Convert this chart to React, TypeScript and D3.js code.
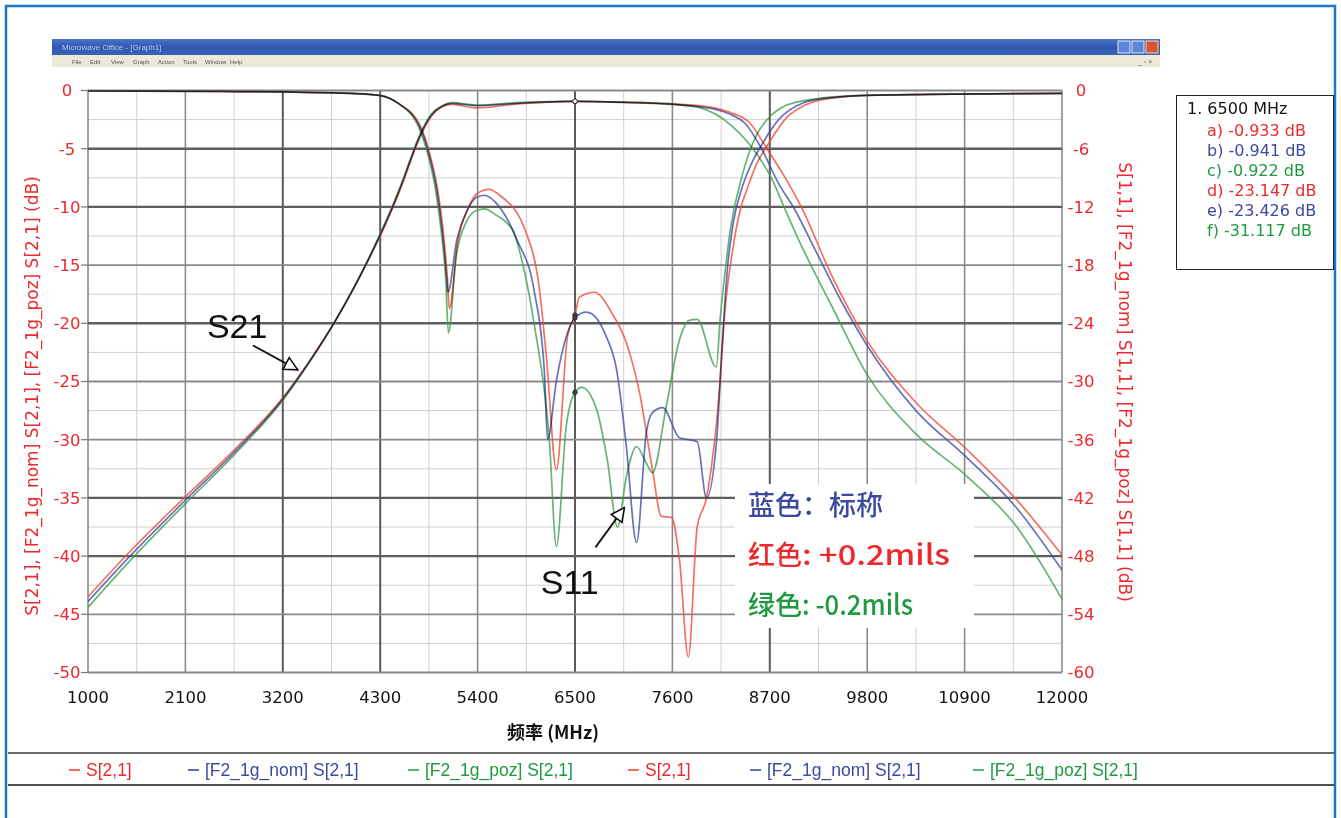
import React from "react";
import * as d3 from "d3";

// ---------- data ----------
const FREQ_TICKS = [1000, 2100, 3200, 4300, 5400, 6500, 7600, 8700, 9800, 10900, 12000];
const LEFT_TICKS = [0, -5, -10, -15, -20, -25, -30, -35, -40, -45, -50];
const RIGHT_TICKS = [0, -6, -12, -18, -24, -30, -36, -42, -48, -54, -60];

// S21 (left axis, dB) : [MHz, dB]
const s21Plus: [number, number][] = [
  [1000, -43.5], [1450, -39.8], [2100, -34.9], [2650, -30.9], [3200, -26.4], [3500, -23.25],
  [3800, -19.7], [4000, -17.0], [4200, -14.05], [4300, -12.5], [4440, -10.1], [4540, -8.25],
  [4650, -5.95], [4720, -4.55], [4880, -2.2], [5000, -1.4], [5110, -1.2], [5390, -1.5],
  [5850, -1.15], [6500, -0.933], [7040, -1.0], [7590, -1.15], [8050, -1.45], [8240, -1.85],
  [8470, -2.75], [8660, -4.9], [8890, -7.7], [9055, -10.0], [9405, -16.0], [9790, -21.4],
  [10350, -26.8], [10920, -30.8], [11480, -35.1], [12000, -39.9],
];
const s21Nom: [number, number][] = [
  [1000, -43.9], [1450, -40.2], [2100, -35.2], [2650, -31.1], [3200, -26.5], [3500, -23.3],
  [3800, -19.7], [4000, -17.0], [4200, -14.0], [4300, -12.4], [4440, -10.0], [4540, -8.1],
  [4650, -5.8], [4720, -4.4], [4880, -2.1], [5000, -1.35], [5110, -1.1], [5390, -1.3],
  [5850, -1.1], [6500, -0.941], [7040, -1.03], [7590, -1.2], [8050, -1.55], [8240, -2.0],
  [8430, -2.9], [8600, -4.9], [8800, -8.0], [8980, -10.2], [9220, -13.8], [9500, -18.0],
  [9790, -21.8], [10350, -27.5], [10920, -31.5], [11480, -35.8], [12000, -41.2],
];
const s21Minus: [number, number][] = [
  [1000, -44.4], [1450, -40.6], [2100, -35.5], [2650, -31.3], [3200, -26.6], [3500, -23.35],
  [3800, -19.7], [4000, -16.95], [4200, -13.95], [4300, -12.3], [4440, -9.9], [4540, -8.0],
  [4650, -5.7], [4720, -4.3], [4880, -2.0], [5000, -1.3], [5110, -1.05], [5390, -1.25],
  [5850, -1.05], [6500, -0.922], [7040, -1.0], [7590, -1.15], [7900, -1.45], [8280, -3.1],
  [8500, -4.9], [8730, -7.7], [8860, -10.0], [9030, -12.9], [9405, -18.6], [9790, -24.3],
  [10350, -29.5], [10920, -33.1], [11480, -37.4], [12000, -43.7],
];

// S11 (right axis, dB)
const s11Plus: [number, number][] = [
  [1000, -0.05], [2500, -0.1], [3220, -0.15], [3980, -0.3], [4290, -0.5], [4500, -1.3],
  [4750, -3.6], [4870, -6.9], [4950, -10.3], [5010, -14.4], [5060, -19.5], [5080, -22.5],
  [5175, -15.6], [5290, -12.2], [5400, -10.6], [5530, -10.2], [5650, -10.8], [5950, -14.7],
  [6100, -20.6], [6180, -27.8], [6290, -39.1], [6415, -25.4], [6500, -23.147], [6550, -21.3],
  [6720, -20.8], [6920, -23.0], [7080, -26.0], [7230, -31.2], [7375, -39.1], [7475, -43.9],
  [7590, -44.0], [7680, -48.4], [7780, -58.4], [7880, -45.0], [7985, -42.0], [8130, -31.0],
  [8200, -22.0], [8280, -16.5], [8360, -12.5], [8450, -10.0], [8550, -7.6], [8670, -5.7],
  [8890, -2.8], [9100, -1.5], [9260, -1.0], [9790, -0.5], [12000, -0.3],
];
const s11Nom: [number, number][] = [
  [1000, -0.05], [2500, -0.1], [3220, -0.15], [3980, -0.3], [4290, -0.5], [4500, -1.3],
  [4750, -3.8], [4860, -6.9], [4940, -10.3], [5000, -14.4], [5050, -19.2], [5065, -20.8],
  [5165, -15.4], [5280, -12.4], [5390, -11.0], [5480, -10.8], [5600, -11.5], [5850, -15.5],
  [6040, -20.7], [6155, -29.1], [6190, -36.0], [6290, -29.9], [6415, -25.0], [6500, -23.426],
  [6630, -22.85], [6855, -25.4], [6970, -28.8], [7080, -36.7], [7195, -46.6], [7305, -35.3],
  [7375, -33.2], [7490, -32.7], [7680, -35.8], [7880, -36.2], [7985, -42.0], [8100, -36.0],
  [8160, -26.5], [8220, -18.5], [8290, -13.5], [8380, -10.2], [8470, -8.0], [8615, -5.5],
  [8810, -2.9], [9000, -1.6], [9180, -1.0], [9790, -0.5], [10500, -0.4], [12000, -0.3],
];
const s11Minus: [number, number][] = [
  [1000, -0.05], [2500, -0.1], [3220, -0.15], [3980, -0.3], [4290, -0.5], [4500, -1.3],
  [4740, -3.9], [4850, -7.0], [4930, -10.5], [4990, -14.6], [5040, -19.5], [5070, -25.0],
  [5160, -17.0], [5270, -13.6], [5380, -12.4], [5480, -12.2], [5600, -12.8], [5795, -14.4],
  [5900, -17.5], [6045, -24.4], [6210, -36.0], [6290, -47.0], [6400, -34.7], [6500, -31.117],
  [6575, -30.6], [6745, -32.9], [6865, -38.1], [6980, -45.0], [7080, -39.8], [7195, -36.7],
  [7305, -38.4], [7375, -39.4], [7530, -32.6], [7680, -25.7], [7790, -23.7], [7880, -23.6],
  [8095, -28.5], [8140, -23.5], [8210, -17.5], [8250, -14.6], [8390, -8.7], [8550, -4.6],
  [8660, -3.1], [9000, -1.2], [9740, -0.5], [12000, -0.3],
];

const MARKER_FREQ = 6500;
const MARKER_LINES = [
  "a) -0.933 dB", "b) -0.941 dB", "c) -0.922 dB",
  "d) -23.147 dB", "e) -23.426 dB", "f) -31.117 dB",
];
const LEGEND_LABELS = [
  "S[2,1]", "[F2_1g_nom] S[2,1]", "[F2_1g_poz] S[2,1]",
  "S[2,1]", "[F2_1g_nom] S[2,1]", "[F2_1g_poz] S[2,1]",
];
const MENU_ITEMS = ["File", "Edit", "View", "Graph", "Action", "Tools", "Window", "Help"];

// annotations in data units
const S21_LABEL = { f: 2343, db: -21.3, text: "S21" };
const S21_ARROW = { f0: 2862, db0: -21.9, f1: 3369, db1: -24.0 };
const S11_LABEL = { f: 6113, db: -51.9, text: "S11" };
const S11_ARROW = { f0: 6731, db0: -47.1, f1: 7058, db1: -43.0 };

// ---------- styles ----------
const RED = "#ee4a36";
const BLUE = "#3f4ca6";
const GREEN = "#3c9f50";
const RED_T = "#ec2a2e";
const BLUE_T = "#3b4a9e";
const GREEN_T = "#1f9a40";
const TICK_FONT = "'DejaVu Sans', Verdana, sans-serif";

const W = 1341;
const H = 818;
const PL = 88, PR = 1062, PT = 90.5, PB = 672.5;

export default function App() {
  const x = d3.scaleLinear().domain([1000, 12000]).range([PL, PR]);
  const yL = d3.scaleLinear().domain([0, -50]).range([PT, PB]);
  const yR = d3.scaleLinear().domain([0, -60]).range([PT, PB]);

  const lineL = d3.line<[number, number]>().x(d => x(d[0])).y(d => yL(d[1])).curve(d3.curveMonotoneX);
  const lineR = d3.line<[number, number]>().x(d => x(d[0])).y(d => yR(d[1])).curve(d3.curveMonotoneX);

  const s21 = [
    { data: s21Plus, color: RED },
    { data: s21Nom, color: BLUE },
    { data: s21Minus, color: GREEN },
  ];
  const s11 = [
    { data: s11Plus, color: RED },
    { data: s11Nom, color: BLUE },
    { data: s11Minus, color: GREEN },
  ];

  const minorX = d3.range(1550, 12000, 1100);
  const minorY = d3.range(-2.5, -50, -5);
  const darkX = new Set([3200, 4300, 6500, 8700]);
  const darkY = new Set([-5, -10, -20, -35, -40]);

  const valAt = (data: [number, number][], f: number) => {
    const p = data.find(d => d[0] === f);
    return p ? p[1] : 0;
  };

  const legendX = [69, 188, 408, 628, 750, 973];
  const legendColors = [RED, BLUE, GREEN, RED, BLUE, GREEN];
  const legendTextColors = [RED_T, BLUE_T, GREEN_T, RED_T, BLUE_T, GREEN_T];
  const markerColors = [RED_T, BLUE_T, GREEN_T, RED_T, BLUE_T, GREEN_T];

  const menuX = [72, 90, 111, 133, 158, 183, 205, 230];
  const curveStyle = { mixBlendMode: "multiply" as const };

  return (
    <svg width={W} height={H} style={{ position: "absolute", left: 0, top: 0, background: "#fff" }}>
      <defs>
        <linearGradient id="tb" x1="0" y1="0" x2="0" y2="1">
          <stop offset="0" stopColor="#4a73c8" />
          <stop offset="0.5" stopColor="#2f58b2" />
          <stop offset="1" stopColor="#3a62b8" />
        </linearGradient>
        <clipPath id="plot">
          <rect x={PL} y={PT - 2} width={PR - PL} height={PB - PT + 4} />
        </clipPath>
        <marker id="openHead" viewBox="0 0 12 12" refX="11" refY="6" markerWidth="16" markerHeight="16"
          markerUnits="userSpaceOnUse" orient="auto">
          <path d="M1,1 L11,6 L1,11 Z" fill="#fff" stroke="#111" strokeWidth="1.2" />
        </marker>
      </defs>

      {/* outer frame */}
      <rect x={6} y={6} width={1329} height={830} fill="none" stroke="#1c78c6" strokeWidth={2.5} />

      {/* window title bar */}
      <rect x={52} y={39} width={1108} height={16} fill="url(#tb)" />
      <text x={62} y={50} fontSize={8} fill="#b9c8ec" fontFamily="Arial, sans-serif">Microwave Office - [Graph1]</text>
      <rect x={1118} y={41} width={12} height={12} fill="#5b86d8" stroke="#dfe8fa" strokeWidth={1} />
      <rect x={1132} y={41} width={12} height={12} fill="#5b86d8" stroke="#dfe8fa" strokeWidth={1} />
      <rect x={1146} y={41} width={12} height={12} fill="#d9552e" stroke="#f4d2c4" strokeWidth={1} />
      <rect x={52} y={55} width={1108} height={12} fill="#ece9d8" />
      {MENU_ITEMS.map((m, i) => (
        <text key={m} x={menuX[i]} y={64} fontSize={6} fill="#555" fontFamily="Arial, sans-serif">{m}</text>
      ))}
      <text x={1138} y={64} fontSize={7} fill="#666" fontFamily="Arial, sans-serif">_ ▫ ×</text>

      {/* grid */}
      {minorX.map(f => (
        <line key={"mx" + f} x1={x(f)} x2={x(f)} y1={PT} y2={PB} stroke="#cfcfcf" strokeWidth={1} />
      ))}
      {minorY.map(v => (
        <line key={"my" + v} x1={PL} x2={PR} y1={yL(v)} y2={yL(v)} stroke="#cfcfcf" strokeWidth={1} />
      ))}
      {FREQ_TICKS.map(f => (
        <line key={"gx" + f} x1={x(f)} x2={x(f)} y1={PT} y2={PB}
          stroke={darkX.has(f) ? "#5a5a5a" : "#8a8a8a"} strokeWidth={darkX.has(f) ? 2 : 1.6} />
      ))}
      {LEFT_TICKS.map(v => (
        <line key={"gy" + v} x1={PL} x2={PR} y1={yL(v)} y2={yL(v)}
          stroke={darkY.has(v) ? "#5e5e5e" : "#8a8a8a"} strokeWidth={darkY.has(v) ? 2.4 : 1.8} />
      ))}

      {/* left axis ticks and labels */}
      {LEFT_TICKS.map(v => (
        <g key={"lt" + v}>
          <line x1={PL - 7} x2={PL} y1={yL(v)} y2={yL(v)} stroke="#777" strokeWidth={1.2} />
          <text x={67} y={yL(v)} dy="0.36em" textAnchor="middle" fontSize={16.5} fill={RED_T}
            fontFamily={TICK_FONT}>{v}</text>
        </g>
      ))}
      {RIGHT_TICKS.map(v => (
        <text key={"rt" + v} x={1081} y={yR(v)} dy="0.36em" textAnchor="middle" fontSize={16.5}
          fill={RED_T} fontFamily={TICK_FONT}>{v}</text>
      ))}
      {FREQ_TICKS.map(f => (
        <text key={"xt" + f} x={x(f)} y={703} textAnchor="middle" fontSize={16.5} fill="#111"
          fontFamily={TICK_FONT}>{f}</text>
      ))}

      {/* axis titles */}
      <text transform="translate(32,396) rotate(-90)" textAnchor="middle" dominantBaseline="central"
        fontSize={17} fill={RED_T} fontFamily={TICK_FONT}>
        S[2,1], [F2_1g_nom] S[2,1], [F2_1g_poz] S[2,1] (dB)
      </text>
      <text transform="translate(1125,382) rotate(90)" textAnchor="middle" dominantBaseline="central"
        fontSize={17} fill={RED_T} fontFamily={TICK_FONT}>
        S[1,1], [F2_1g_nom] S[1,1], [F2_1g_poz] S[1,1] (dB)
      </text>
      <text x={553} y={739} textAnchor="middle" fontSize={18} fontWeight={600} fill="#111"
        fontFamily="'Noto Sans CJK SC', 'DejaVu Sans', sans-serif">频率 (MHz)</text>

      {/* curves */}
      <g clipPath="url(#plot)" fill="none" strokeWidth={1.7} strokeOpacity={0.78}>
        {s21.map((s, i) => (
          <path key={"s21" + i} d={lineL(s.data) || ""} stroke={s.color} style={curveStyle} />
        ))}
        {s11.map((s, i) => (
          <path key={"s11" + i} d={lineR(s.data) || ""} stroke={s.color} style={curveStyle} />
        ))}
      </g>

      {/* markers at 6500 MHz */}
      {s21.map((s, i) => (
        <circle key={"m21" + i} cx={x(MARKER_FREQ)} cy={yL(valAt(s.data, MARKER_FREQ))} r={2.3}
          fill="#fff" stroke="#333" strokeWidth={1} />
      ))}
      {s11.map((s, i) => (
        <circle key={"m11" + i} cx={x(MARKER_FREQ)} cy={yR(valAt(s.data, MARKER_FREQ))} r={2.3}
          fill="#444" stroke="#222" strokeWidth={0.8} />
      ))}

      {/* S21 / S11 annotations */}
      <text x={x(S21_LABEL.f)} y={yL(S21_LABEL.db)} fontSize={34} fill="#111"
        fontFamily="'Liberation Sans', Arial, sans-serif">{S21_LABEL.text}</text>
      <line x1={x(S21_ARROW.f0)} y1={yL(S21_ARROW.db0)} x2={x(S21_ARROW.f1)} y2={yL(S21_ARROW.db1)}
        stroke="#111" strokeWidth={1.8} markerEnd="url(#openHead)" />
      <text x={x(S11_LABEL.f)} y={yR(S11_LABEL.db)} fontSize={34} fill="#111"
        fontFamily="'Liberation Sans', Arial, sans-serif">{S11_LABEL.text}</text>
      <line x1={x(S11_ARROW.f0)} y1={yR(S11_ARROW.db0)} x2={x(S11_ARROW.f1)} y2={yR(S11_ARROW.db1)}
        stroke="#111" strokeWidth={1.8} markerEnd="url(#openHead)" />

      {/* colour key box */}
      <rect x={735} y={484} width={239} height={144} fill="#fff" />
      <text x={748} y={515} fontSize={27} fontWeight={500} fill={BLUE_T}
        fontFamily="'Noto Sans CJK SC', sans-serif">蓝色：标称</text>
      <text x={748} y={565} fontSize={27} fontWeight={500} fill={RED_T}
        fontFamily="'Noto Sans CJK SC', sans-serif">红色</text>
      <text x={802} y={565} fontSize={28} fontWeight={500} fill={RED_T} textLength={148} lengthAdjust="spacingAndGlyphs"
        fontFamily="'Noto Sans CJK SC', sans-serif">: +0.2mils</text>
      <text x={748} y={615} fontSize={27} fontWeight={500} fill={GREEN_T}
        fontFamily="'Noto Sans CJK SC', sans-serif">绿色</text>
      <text x={802} y={615} fontSize={28} fontWeight={500} fill={GREEN_T} textLength={111} lengthAdjust="spacingAndGlyphs"
        fontFamily="'Noto Sans CJK SC', sans-serif">: -0.2mils</text>

      {/* marker readout box */}
      <rect x={1176.5} y={95.5} width={157} height={174} fill="#fff" stroke="#222" strokeWidth={1} />
      <text x={1187} y={114} fontSize={16} fill="#111" fontFamily={TICK_FONT}>1. {MARKER_FREQ} MHz</text>
      {MARKER_LINES.map((t, i) => (
        <text key={t} x={1207} y={136 + i * 20} fontSize={16} fill={markerColors[i]}
          fontFamily={TICK_FONT}>{t}</text>
      ))}

      {/* bottom legend */}
      <line x1={8} x2={1334} y1={753} y2={753} stroke="#3a3a3a" strokeWidth={1.5} />
      <line x1={8} x2={1334} y1={785} y2={785} stroke="#1a1a1a" strokeWidth={1.5} />
      {LEGEND_LABELS.map((t, i) => (
        <g key={"lg" + i}>
          <line x1={legendX[i]} x2={legendX[i] + 11} y1={770} y2={770} stroke={legendColors[i]} strokeWidth={1.6} />
          <text x={legendX[i] + 17} y={776} fontSize={17.5} fill={legendTextColors[i]}
            fontFamily="'Liberation Sans', Arial, sans-serif">{t}</text>
        </g>
      ))}
    </svg>
  );
}
